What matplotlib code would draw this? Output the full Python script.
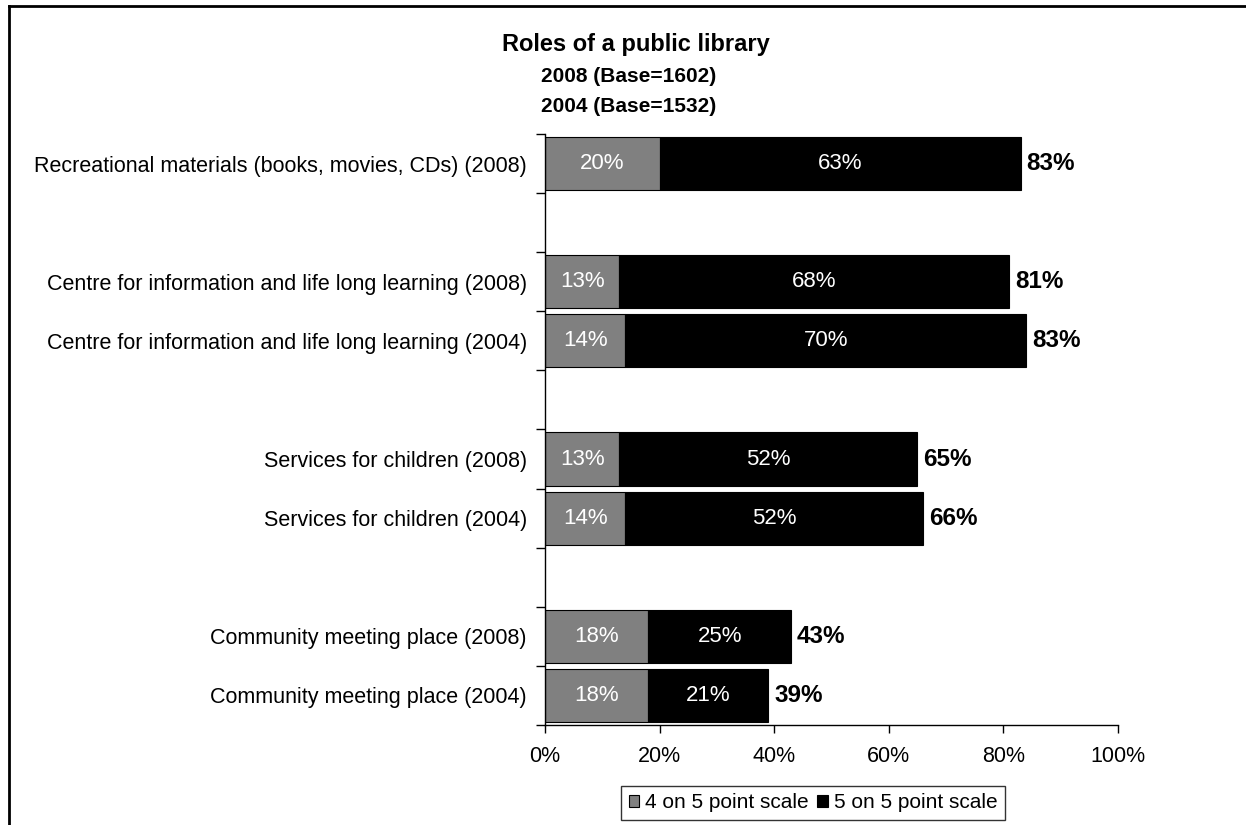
import numpy as np
import matplotlib
matplotlib.use("Agg")
import matplotlib.pyplot as plt
from matplotlib.lines import Line2D
from matplotlib.patches import Patch

plt.rcParams['font.family'] = ['Liberation Sans', 'DejaVu Sans']

# one row per slot, blank rows separate the groups
labels = ["Recreational materials (books, movies, CDs) (2008)", "",
          "Centre for information and life long learning (2008)",
          "Centre for information and life long learning (2004)", "",
          "Services for children (2008)", "Services for children (2004)", "",
          "Community meeting place (2008)", "Community meeting place (2004)"]
four_pts = [20, 0, 13, 14, 0, 13, 14, 0, 18, 18]
five_pts = [63, 0, 68, 70, 0, 52, 52, 0, 25, 21]
totals = [83, 0, 81, 83, 0, 65, 66, 0, 43, 39]

title = "Roles of a public library"
subtitles = ["2008 (Base=1602)", "2004 (Base=1532)"]
legend_names = ["4 on 5 point scale", "5 on 5 point scale"]

W, H = 1246, 825
fig = plt.figure(figsize=(W / 100, H / 100), dpi=100)
ax = fig.add_axes([545 / W, 1 - 725 / H, (1118 - 545) / W, (725 - 134) / H])

y = np.arange(len(labels))
four = np.array(four_pts, dtype=float)
five = np.array(five_pts, dtype=float)
show = np.array([lab != "" for lab in labels])

ax.barh(y[show], four[show], height=0.9, color='#808080', edgecolor='black', linewidth=0.8)
ax.barh(y[show], five[show], left=four[show], height=0.9, color='black', edgecolor='black', linewidth=0.8)

for i in y[show]:
    ax.text(four[i] / 2, i, f"{four_pts[i]}%", color='white', ha='center', va='center', fontsize=16)
    ax.text(four[i] + five[i] / 2, i, f"{five_pts[i]}%", color='white', ha='center', va='center', fontsize=16)
    ax.text(four[i] + five[i] + 1, i, f"{totals[i]}%", color='black', ha='left', va='center',
            fontsize=17.5, fontweight='bold')

ax.set_xlim(0, 100)
ax.set_ylim(len(labels) - 0.5, -0.5)
ax.set_xticks(np.arange(0, 101, 20))
ax.set_xticklabels([f"{v}%" for v in range(0, 101, 20)], fontsize=15.5)
ax.set_yticks(np.arange(-0.5, len(labels), 1.0))
ax.set_yticklabels([])
ax.set_yticks(y, labels, minor=True, fontsize=15.5)
ax.tick_params(axis='y', which='major', direction='out', length=6.5, width=1)
ax.tick_params(axis='y', which='minor', length=0, pad=13)
ax.tick_params(axis='x', direction='out', length=6, width=1, pad=9)
for s in ['top', 'right']:
    ax.spines[s].set_visible(False)
for s in ['left', 'bottom']:
    ax.spines[s].set_linewidth(1)

# title block
fig.text(636 / W, 1 - 44 / H, title, ha='center', va='center', fontsize=17, fontweight='bold')
for k, sub in enumerate(subtitles):
    fig.text(541 / W, 1 - (76 + 30 * k) / H, sub, ha='left', va='center', fontsize=15, fontweight='bold')

# legend
handles = [Patch(facecolor='#808080', edgecolor='black', linewidth=0.8),
           Patch(facecolor='black', edgecolor='black', linewidth=0.8)]
leg = fig.legend(handles, legend_names, loc='center', bbox_to_anchor=(813 / W, 1 - 803 / H),
                 ncol=2, fontsize=15, frameon=True, fancybox=False, handlelength=0.5,
                 handleheight=0.5, handletextpad=0.3, columnspacing=0.4, borderpad=0.35)
leg.get_frame().set_edgecolor('black')
leg.get_frame().set_linewidth(1)

# outer frame, top and left edges
fig.add_artist(Line2D([9 / W, 1], [1 - 6 / H, 1 - 6 / H], color='black', linewidth=2))
fig.add_artist(Line2D([9 / W, 9 / W], [0, 1 - 6 / H], color='black', linewidth=2))

fig.savefig("out.png", dpi=100)
